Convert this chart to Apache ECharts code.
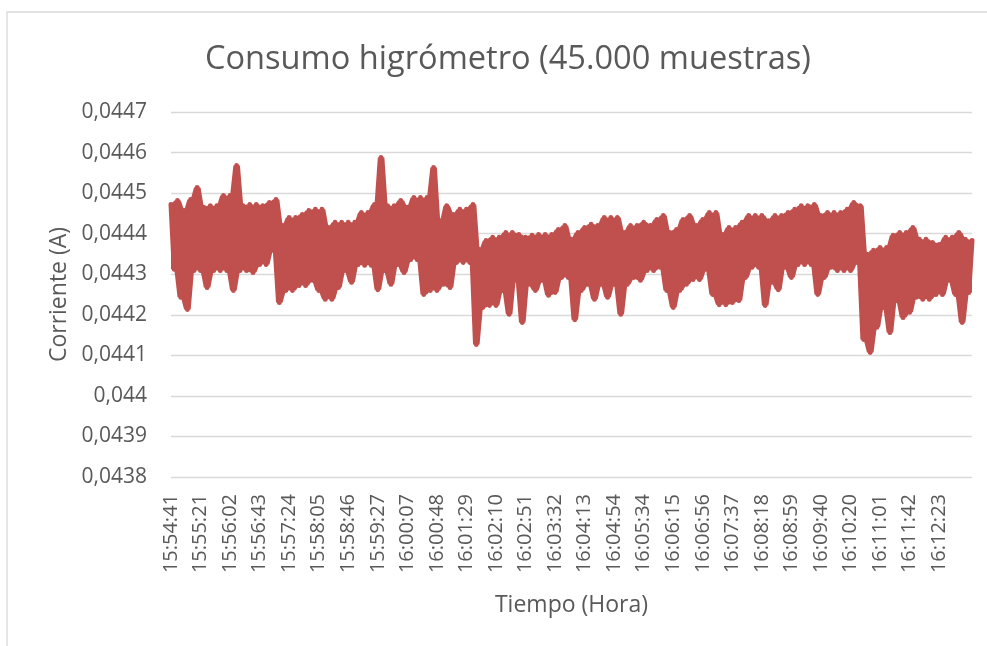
<!DOCTYPE html>
<html>
<head>
<meta charset="utf-8">
<script src="https://cdn.jsdelivr.net/npm/echarts@6/dist/echarts.min.js"></script>
<style>
html,body{margin:0;padding:0;background:#fff;}
#chart{width:987px;height:646px;}
</style>
</head>
<body>
<div id="chart"></div>
<script>
// Tick labels (time, every 9th sample of the drawn trace)
const tickLabels = ['15:54:41','15:55:21','15:56:02','15:56:43','15:57:24','15:58:05','15:58:46','15:59:27','16:00:07','16:00:48','16:01:29','16:02:10','16:02:51','16:03:32','16:04:13','16:04:54','16:05:34','16:06:15','16:06:56','16:07:37','16:08:18','16:08:59','16:09:40','16:10:20','16:11:01','16:11:42','16:12:23'];
const samplesPerTick = 9;

// Current (A): alternating upper / lower edge of the dense trace
const current = [
0.044472,0.044312,0.044482,0.044243,0.044457,0.044213,0.044484,0.044309,0.044514,0.044309,
0.044465,0.044267,0.044469,0.044309,0.044469,0.044309,0.044494,0.044309,0.044494,0.044260,
0.044568,0.044309,0.044469,0.044309,0.044472,0.044304,0.044472,0.044324,0.044469,0.044324,
0.044477,0.044359,0.044484,0.044230,0.044420,0.044260,0.044440,0.044260,0.044440,0.044272,
0.044447,0.044272,0.044457,0.044285,0.044460,0.044260,0.044460,0.044238,0.044415,0.044238,
0.044428,0.044267,0.044428,0.044309,0.044428,0.044280,0.044428,0.044324,0.044452,0.044322,
0.044452,0.044322,0.044472,0.044262,0.044588,0.044309,0.044469,0.044275,0.044469,0.044324,
0.044482,0.044304,0.044465,0.044336,0.044489,0.044336,0.044489,0.044250,0.044489,0.044260,
0.044563,0.044260,0.044432,0.044275,0.044469,0.044267,0.044447,0.044329,0.044460,0.044329,
0.044460,0.044329,0.044472,0.044127,0.044361,0.044218,0.044383,0.044223,0.044391,0.044223,
0.044391,0.044260,0.044403,0.044201,0.044403,0.044285,0.044398,0.044181,0.044391,0.044275,
0.044396,0.044260,0.044398,0.044285,0.044398,0.044248,0.044398,0.044255,0.044410,0.044292,
0.044420,0.044292,0.044386,0.044188,0.044403,0.044260,0.044415,0.044275,0.044423,0.044238,
0.044420,0.044275,0.044440,0.044243,0.044440,0.044275,0.044440,0.044201,0.044403,0.044275,
0.044420,0.044292,0.044420,0.044285,0.044428,0.044309,0.044420,0.044309,0.044435,0.044317,
0.044445,0.044260,0.044403,0.044218,0.044410,0.044260,0.044435,0.044275,0.044445,0.044287,
0.044420,0.044287,0.044435,0.044312,0.044452,0.044250,0.044452,0.044225,0.044398,0.044225,
0.044415,0.044230,0.044415,0.044235,0.044428,0.044292,0.044445,0.044317,0.044445,0.044317,
0.044445,0.044223,0.044432,0.044280,0.044445,0.044262,0.044445,0.044317,0.044452,0.044292,
0.044460,0.044324,0.044469,0.044324,0.044469,0.044324,0.044472,0.044250,0.044445,0.044292,
0.044452,0.044317,0.044452,0.044309,0.044452,0.044309,0.044460,0.044309,0.044477,0.044329,
0.044469,0.044139,0.044349,0.044107,0.044359,0.044169,0.044366,0.044218,0.044366,0.044156,
0.044396,0.044235,0.044403,0.044193,0.044403,0.044206,0.044415,0.044243,0.044386,0.044238,
0.044386,0.044238,0.044378,0.044250,0.044373,0.044250,0.044391,0.044285,0.044391,0.044250,
0.044403,0.044181,0.044386,0.044255,0.044383
];

const yMin = 0.0438, yMax = 0.0447, yStep = 0.0001;

const categories = current.map((v, i) => String(i));
// Envelope of the dense trace (from its own neighbouring samples) so that the band is solid
const lowerEdge = current.map((v, i) => Math.min(v, current[i - 1] ?? v, current[i + 1] ?? v));
const upperEdge = current.map((v, i) => Math.max(v, current[i - 1] ?? v, current[i + 1] ?? v));
const bandHeight = upperEdge.map((u, i) => u - lowerEdge[i]);

const FONT = "'Open Sans', 'DejaVu Sans', sans-serif";
const GREY = '#595959';
const RED = '#C0504D';

const chart = echarts.init(document.getElementById('chart'), null, {renderer: 'canvas'});
chart.setOption({
  animation: false,
  backgroundColor: '#ffffff',
  title: {
    text: 'Consumo higrómetro (45.000 muestras)',
    left: 200,
    top: 38,
    textStyle: {fontFamily: FONT, fontSize: 32.6, fontWeight: 'normal', color: GREY}
  },
  graphic: [{
    type: 'rect',
    shape: {x: 7, y: 12, width: 1000, height: 700},
    style: {fill: 'none', stroke: '#d9d9d9', lineWidth: 1.3},
    silent: true
  }],
  grid: {left: 171, right: 15, top: 112, bottom: 169, containLabel: false},
  xAxis: {
    type: 'category',
    data: categories,
    boundaryGap: false,
    name: 'Tiempo (Hora)',
    nameLocation: 'middle',
    nameGap: 117,
    nameTextStyle: {fontFamily: FONT, fontSize: 23, color: GREY},
    axisLine: {show: false},
    axisTick: {show: false},
    splitLine: {show: false},
    axisLabel: {
      interval: samplesPerTick - 1,
      rotate: 90,
      margin: 17,
      fontFamily: FONT,
      fontSize: 20,
      color: GREY,
      formatter: (val, idx) => (idx % samplesPerTick === 0 ? (tickLabels[idx / samplesPerTick] || '') : '')
    }
  },
  yAxis: {
    type: 'value',
    min: yMin,
    max: yMax,
    interval: yStep,
    name: 'Corriente (A)',
    nameLocation: 'middle',
    nameGap: 97,
    nameTextStyle: {fontFamily: FONT, fontSize: 23, color: GREY},
    axisLine: {show: false},
    axisTick: {show: false},
    splitLine: {show: true, lineStyle: {color: '#d9d9d9', width: 1.3}},
    axisLabel: {
      margin: 24,
      fontFamily: FONT,
      fontSize: 21,
      color: GREY,
      formatter: v => String(parseFloat(v.toFixed(4))).replace('.', ',')
    }
  },
  series: [
    {
      name: 'base',
      type: 'line',
      stack: 'band',
      data: lowerEdge,
      symbol: 'none',
      silent: true,
      lineStyle: {opacity: 0},
      z: 1
    },
    {
      name: 'band',
      type: 'line',
      stack: 'band',
      data: bandHeight,
      symbol: 'none',
      silent: true,
      lineStyle: {opacity: 0},
      areaStyle: {color: RED, opacity: 1},
      z: 1
    },
    {
      name: 'Corriente',
      type: 'line',
      data: current,
      showSymbol: false,
      symbol: 'none',
      sampling: null,
      lineStyle: {color: RED, width: 5, cap: 'round', join: 'round'},
      itemStyle: {color: RED},
      z: 2
    }
  ]
});
</script>
</body>
</html>
